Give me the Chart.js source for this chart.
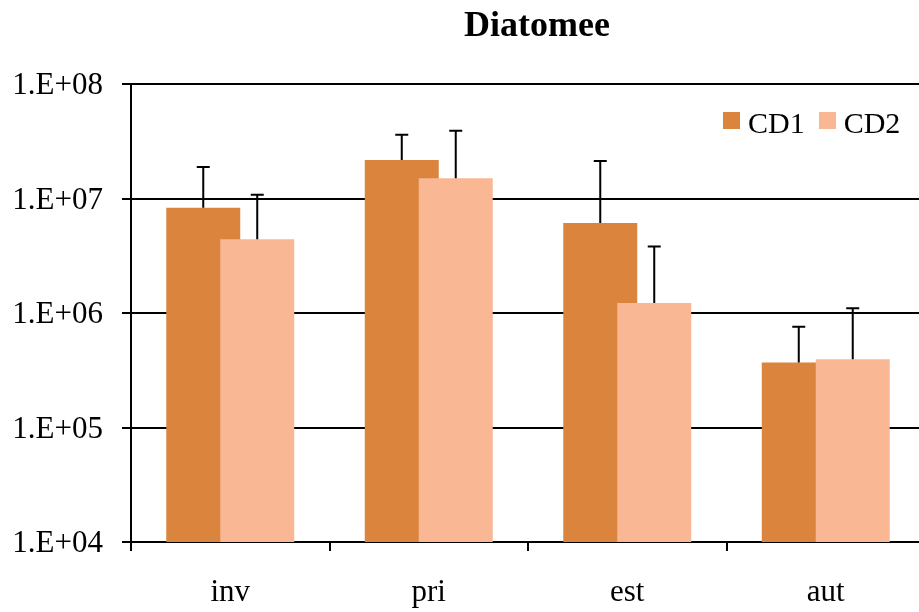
<!DOCTYPE html>
<html>
<head>
<meta charset="utf-8">
<script src="https://cdn.jsdelivr.net/npm/chart.js@4/dist/chart.umd.min.js"></script>
<style>
  html, body { margin: 0; padding: 0; background: #fff; overflow: hidden; }
  #wrap { position: relative; width: 925px; height: 612px; }
  canvas { display: block; }
  #title {
    position: absolute; left: 437px; top: 6px; width: 200px;
    text-align: center; font: bold 36px/36px 'Liberation Serif', 'Times New Roman', serif; color: #000;
  }
  #legend {
    position: absolute; left: 723px; top: 108px; display: flex; align-items: flex-start; gap: 14px;
    font: 30px/30px 'Liberation Serif', 'Times New Roman', serif; color: #000;
  }
  #legend .item { display: flex; align-items: flex-start; gap: 8px; }
  #legend .box { width: 17px; height: 17px; margin-top: 4px; }
</style>
</head>
<body>
<div id="wrap">
  <canvas id="diatomChart" width="925" height="612"></canvas>
  <div id="title">Diatomee</div>
  <div id="legend"></div>
</div>
<script>
// data
const seasons = ['inv', 'pri', 'est', 'aut'];
const cd1 = [8.3e6, 2.17e7, 6.1e6, 3.7e5];
const cd2 = [4.4e6, 1.5e7, 1.22e6, 3.95e5];
const cd1Upper = [1.88e7, 3.6e7, 2.13e7, 7.6e5];
const cd2Upper = [1.08e7, 3.9e7, 3.8e6, 1.1e6];
const yTickValues = [1e4, 1e5, 1e6, 1e7, 1e8];
const yTickLabels = ['1.E+04', '1.E+05', '1.E+06', '1.E+07', '1.E+08'];

const SERIF = "'Liberation Serif', 'Times New Roman', serif";

// Chart.js paints dataset 0 last; CD2 has to sit on top of CD1 where they overlap
const cd2OnTop = {
    id: 'cd2OnTop',
    beforeDatasetDraw(chart, args) {
        if (args.index === 1) return false;
    },
    afterDatasetDraw(chart, args) {
        if (args.index === 0) chart.getDatasetMeta(1).controller.draw();
    }
};

// upward-only error bars with caps
const errorBars = {
    id: 'errorBars',
    afterDatasetsDraw(chart) {
        const ctx = chart.ctx;
        const yScale = chart.scales.y;
        const uppers = [cd1Upper, cd2Upper];
        ctx.save();
        ctx.strokeStyle = '#000';
        ctx.lineWidth = 2;
        chart.data.datasets.forEach(function(ds, di) {
            chart.getDatasetMeta(di).data.forEach(function(bar, i) {
                const yTop = yScale.getPixelForValue(uppers[di][i]);
                ctx.beginPath();
                ctx.moveTo(bar.x, bar.y);
                ctx.lineTo(bar.x, yTop);
                ctx.moveTo(bar.x - 6.5, yTop);
                ctx.lineTo(bar.x + 6.5, yTop);
                ctx.stroke();
            });
        });
        ctx.restore();
    }
};

const chart = new Chart(document.getElementById('diatomChart').getContext('2d'), {
    type: 'bar',
    data: {
        labels: seasons,
        datasets: [
            {
                label: 'CD1',
                data: cd1,
                backgroundColor: '#DA843E',
                barPercentage: 1.37,
                categoryPercentage: 0.544
            },
            {
                label: 'CD2',
                data: cd2,
                backgroundColor: '#F9B793',
                barPercentage: 1.37,
                categoryPercentage: 0.544
            }
        ]
    },
    options: {
        responsive: false,
        animation: false,
        devicePixelRatio: 1,
        layout: { padding: { top: 84 } },
        plugins: {
            title: { display: false },
            legend: { display: false },
            tooltip: { enabled: false }
        },
        scales: {
            x: {
                grid: {
                    offset: true,
                    drawOnChartArea: false,
                    drawTicks: true,
                    tickLength: 9,
                    color: '#000',
                    lineWidth: 2
                },
                border: { color: '#000', width: 2 },
                ticks: {
                    color: '#000',
                    font: { family: SERIF, size: 31 },
                    padding: 23
                },
                afterFit: function(scale) { scale.height = 70; }
            },
            y: {
                type: 'logarithmic',
                min: 1e4,
                max: 1e8,
                afterBuildTicks: function(scale) {
                    scale.ticks = yTickValues.map(function(v) { return { value: v }; });
                },
                grid: {
                    color: '#000',
                    lineWidth: 2,
                    tickLength: 9
                },
                border: { color: '#000', width: 2 },
                ticks: {
                    color: '#000',
                    font: { family: SERIF, size: 31 },
                    padding: 19,
                    labelOffset: 2,
                    callback: function(v) {
                        const i = yTickValues.indexOf(v);
                        return i >= 0 ? yTickLabels[i] : '';
                    }
                },
                afterFit: function(scale) { scale.width = 131; }
            }
        }
    },
    plugins: [cd2OnTop, errorBars]
});

// legend built from the datasets
const legendEl = document.getElementById('legend');
chart.data.datasets.forEach(function(ds) {
    const item = document.createElement('div');
    item.className = 'item';
    const box = document.createElement('div');
    box.className = 'box';
    box.style.background = ds.backgroundColor;
    const txt = document.createElement('span');
    txt.textContent = ds.label;
    item.appendChild(box);
    item.appendChild(txt);
    legendEl.appendChild(item);
});
</script>
</body>
</html>
